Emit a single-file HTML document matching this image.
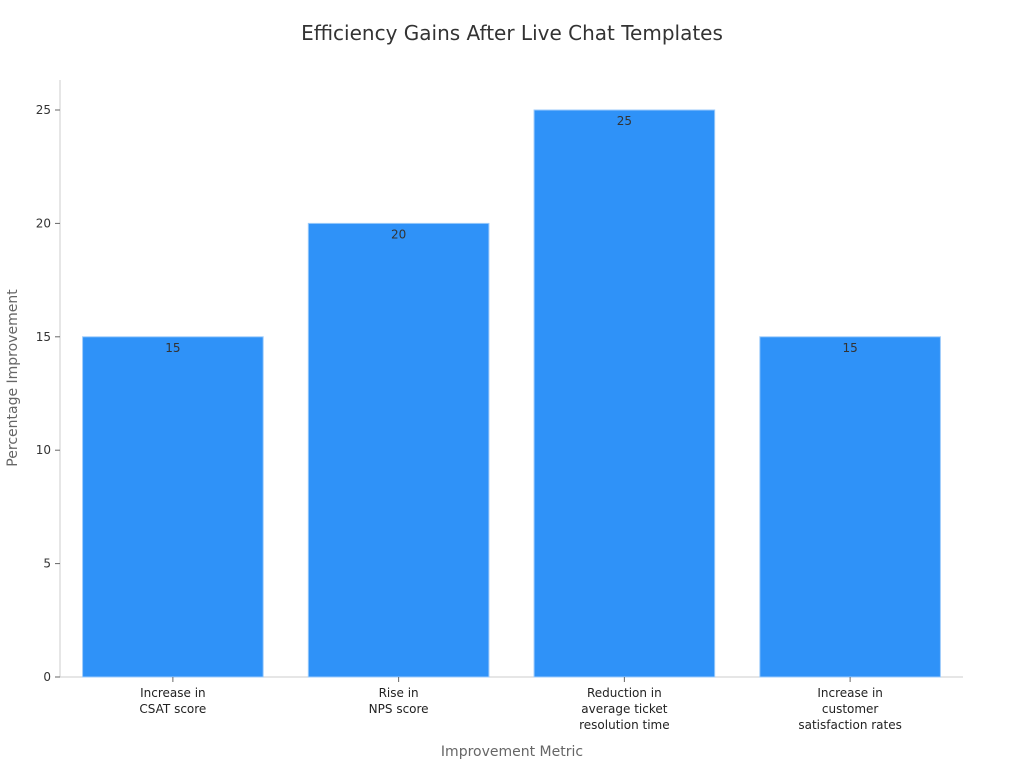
<!DOCTYPE html>
<html><head><meta charset="utf-8"><style>
body{margin:0;background:#fff;}
svg{display:block;font-family:"DejaVu Sans","Liberation Sans",sans-serif;}
</style></head><body>
<svg id="chart" width="1024" height="768">
<text x="512" y="40" text-anchor="middle" font-size="20" fill="#333">Efficiency Gains After Live Chat Templates</text>
<text x="17" y="378" text-anchor="middle" font-size="14" fill="#666" transform="rotate(-90 17 378)">Percentage Improvement</text>
<text x="512" y="756" text-anchor="middle" font-size="14" fill="#666">Improvement Metric</text>
<g id="plot"></g>
</svg>
<script>
const categories=[["Increase in","CSAT score"],["Rise in","NPS score"],["Reduction in","average ticket","resolution time"],["Increase in","customer","satisfaction rates"]];
const values=[15,20,25,15];
const yTicks=[0,5,10,15,20,25];
const NS="http://www.w3.org/2000/svg";
const g=document.getElementById('plot');
const x0=60,x1=963,y0=677,yTop=110,yMaxV=25;
const y=v=>y0-(y0-yTop)*v/yMaxV;
const band=(x1-x0)/categories.length;
const bw=band*0.8;
function mk(t,a){const e=document.createElementNS(NS,t);for(const k in a)e.setAttribute(k,a[k]);g.appendChild(e);return e;}
let ax=mk('line',{x1:x0,y1:80,x2:x0,y2:y0,stroke:'#ccc'});


let bx=mk('line',{x1:x0,y1:y0,x2:x1,y2:y0,stroke:'#ccc'});


yTicks.forEach(t=>{
  const tk=mk('line',{x1:x0-5,x2:x0,y1:y(t),y2:y(t),stroke:'#666'});
  
  
  const tl=mk('text',{x:x0-9,y:y(t)+4,'text-anchor':'end','font-size':12,fill:'#333'});
  tl.textContent=t;
  
  
});
values.forEach((v,i)=>{
  const cx=x0+band*(i+0.5);
  const r=mk('rect',{x:cx-bw/2,y:y(v),width:bw,height:y0-y(v),fill:'#2f92f8',stroke:'#9ccbfb','stroke-width':1});
  
  
  const vl=mk('text',{x:cx,y:y(v)+15,'text-anchor':'middle','font-size':12,fill:'#333'});
  vl.textContent=v;
  
  
  const tk=mk('line',{x1:cx,x2:cx,y1:y0,y2:y0+5,stroke:'#666'});
  
  
  categories[i].forEach((ln,j)=>{
    const t=mk('text',{x:cx,y:y0+20+j*16,'text-anchor':'middle','font-size':12,fill:'#222'});
    t.textContent=ln;
    
    
  });
});
</script>
</body></html>
